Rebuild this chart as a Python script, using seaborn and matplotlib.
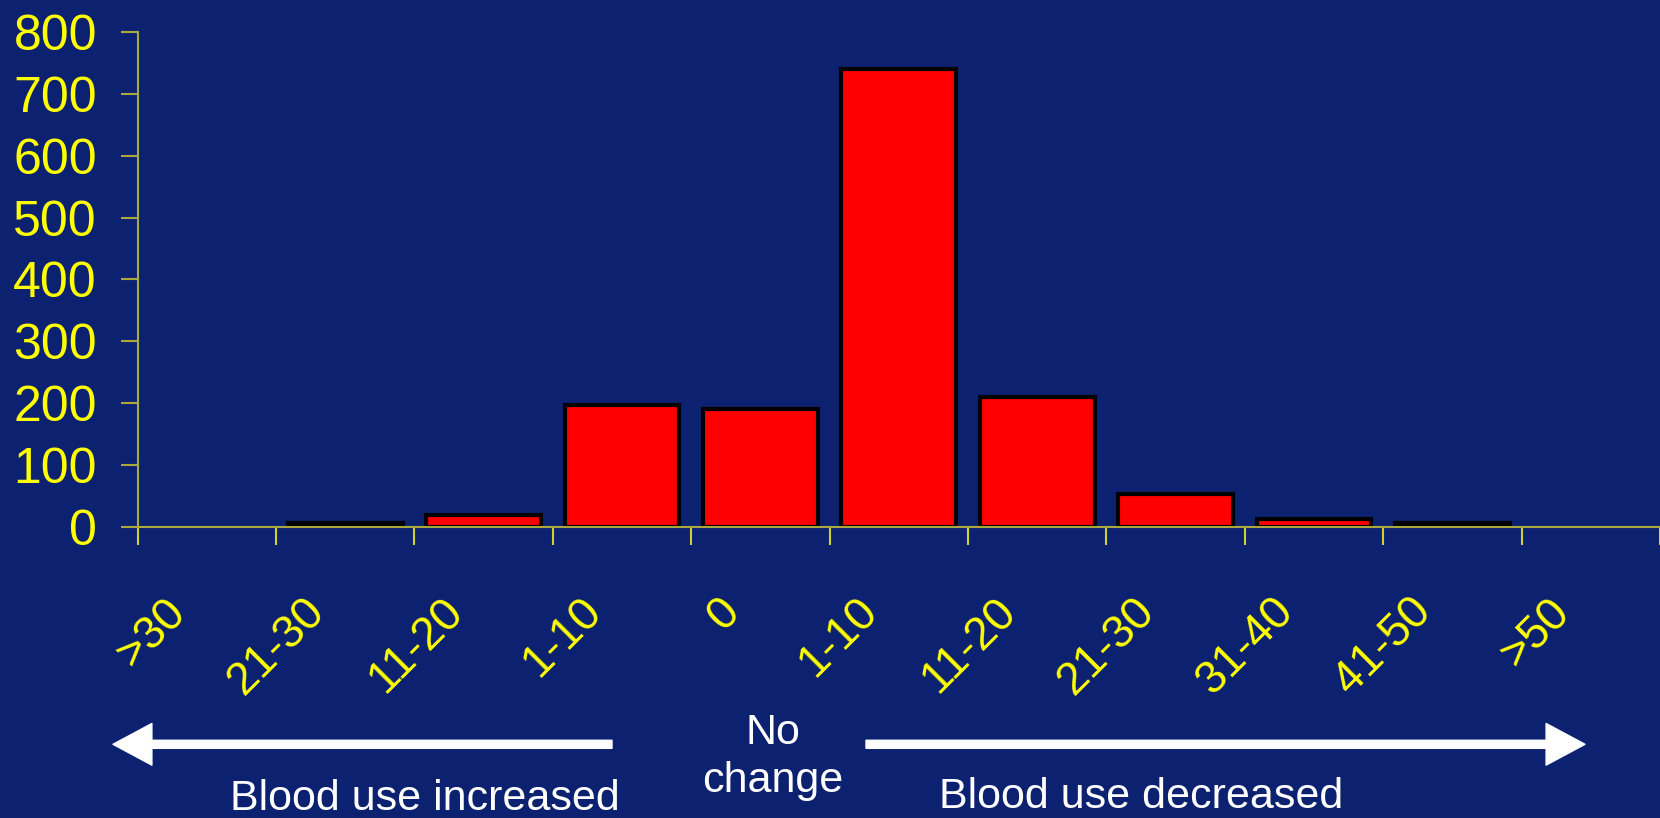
import matplotlib
matplotlib.use("Agg")
import matplotlib.pyplot as plt
import matplotlib.transforms as mtransforms
from matplotlib.patches import FancyArrowPatch
import seaborn as sns
import pandas as pd
import numpy as np

# ---- data ----
bin_labels = [">30", "21-30", "11-20", "1-10", "0", "1-10", "11-20", "21-30", "31-40", "41-50", ">50"]
bin_sides = ["increased"] * 4 + ["none"] + ["decreased"] * 6
counts = [0, 6, 20, 197, 190, 740, 210, 53, 13, 6, 0]
y_ticks = [0, 100, 200, 300, 400, 500, 600, 700, 800]

BG = "#0c2271"
YELLOW = "#ffff00"
AXIS_COL = "#aaa83c"

sns.set_theme(style="white")
plt.rcParams["font.family"] = ["Liberation Sans", "DejaVu Sans"]

df = pd.DataFrame({
    "key": [f"{s} {l}" for s, l in zip(bin_sides, bin_labels)],
    "label": bin_labels,
    "count": counts,
})

fig = plt.figure(figsize=(16.6, 8.18), dpi=100, facecolor=BG)
ax = fig.add_axes([0.0829, 0.3557, 1.0 - 0.0829, 0.9611 - 0.3557])
ax.set_facecolor(BG)

sns.barplot(data=df, x="key", y="count", order=list(df["key"]), color="#ff0000",
            saturation=1, width=0.83, edgecolor="black", linewidth=3.0, ax=ax)

for p in ax.patches:
    if p.get_height() == 0:
        p.set_linewidth(0)

n = len(bin_labels)
ax.set_xlim(-0.5, n - 0.5)
ax.set_ylim(0, 800)
ax.set_xlabel("")
ax.set_ylabel("")

# spines
for s in ["top", "right"]:
    ax.spines[s].set_visible(False)
for s in ["left", "bottom"]:
    ax.spines[s].set_color(AXIS_COL)
    ax.spines[s].set_linewidth(1.5)
    ax.spines[s].set_zorder(3)

# y axis
ax.set_yticks(y_ticks)
ax.set_yticklabels([str(v) for v in y_ticks])
ax.tick_params(axis="y", direction="out", length=12.3, width=1.5, color=AXIS_COL,
               labelcolor=YELLOW, labelsize=36, pad=17, left=True)

# x axis: boundary ticks (major), labels on category centers (minor)
boundaries = np.arange(-0.5, n, 1.0)
ax.set_xticks(boundaries)
ax.set_xticklabels([""] * len(boundaries))
ax.set_xticks(np.arange(n), minor=True)
ax.set_xticklabels(bin_labels, minor=True)
ax.tick_params(axis="x", which="major", direction="out", length=13, width=1.5,
               color="#cfcf30", bottom=True)
ax.tick_params(axis="x", which="minor", length=0, labelcolor=YELLOW, labelsize=33,
               pad=45, bottom=True)
offset = mtransforms.ScaledTranslation(-0.12, 0, fig.dpi_scale_trans)
for lab in ax.get_xticklabels(minor=True):
    lab.set_rotation(45)
    lab.set_ha("right")
    lab.set_va("top")
    lab.set_transform(lab.get_transform() + offset)

# arrows
arrow_style = "simple,head_length=2.8,head_width=3.0,tail_width=0.58"
W, H = 1660.0, 818.0
y_arrow = 1 - 744.3 / H
a1 = FancyArrowPatch((612 / W, y_arrow), (113 / W, y_arrow), transform=fig.transFigure,
                     arrowstyle=arrow_style, mutation_scale=10, color="white",
                     shrinkA=0, shrinkB=0)
a2 = FancyArrowPatch((866 / W, y_arrow), (1585 / W, y_arrow), transform=fig.transFigure,
                     arrowstyle=arrow_style, mutation_scale=10, color="white",
                     shrinkA=0, shrinkB=0)
fig.patches.extend([a1, a2])

fig.text(773 / W, 1 - 792 / H, "No\nchange", color="white", fontsize=31,
         ha="center", va="baseline", linespacing=1.25)
fig.text(424.5 / W, 1 - 810 / H, "Blood use increased", color="white", fontsize=31,
         ha="center", va="baseline")
fig.text(1140.7 / W, 1 - 808 / H, "Blood use decreased", color="white", fontsize=31,
         ha="center", va="baseline")

fig.savefig("out.png", dpi=100, facecolor=BG)
